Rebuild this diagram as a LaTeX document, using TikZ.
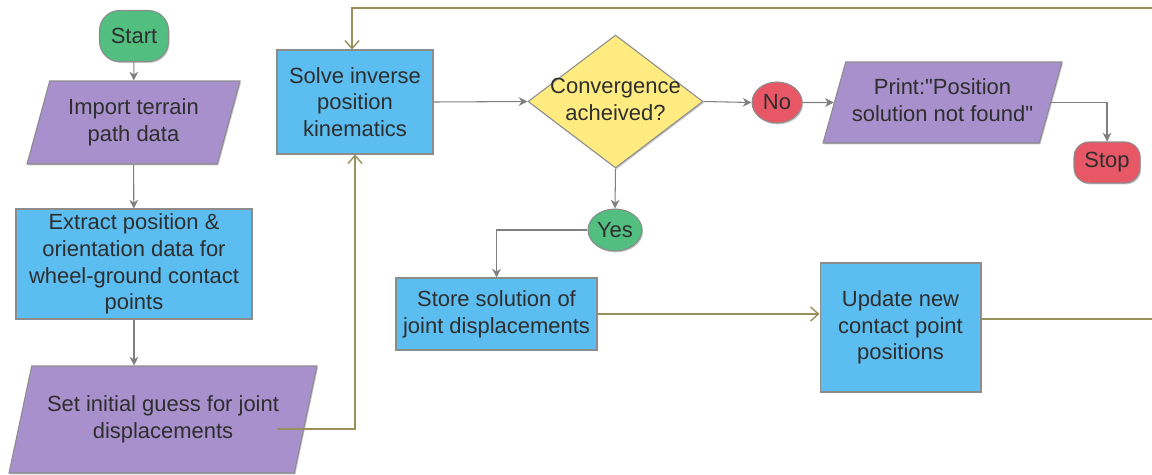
\documentclass[tikz,border=0pt]{standalone}
\usepackage{fontspec}
\setmainfont{Liberation Sans}[Ligatures=TeXOff]
\usetikzlibrary{shapes.geometric,arrows.meta,shadows}
\definecolor{cgreen}{HTML}{52BE80}
\definecolor{cred}{HTML}{E85766}
\definecolor{cpurple}{HTML}{A890CC}
\definecolor{cblue}{HTML}{5BBDF0}
\definecolor{cyellow}{HTML}{FFEB80}
\definecolor{colive}{HTML}{9A905E}
\definecolor{cborder}{HTML}{8C8C8C}
\definecolor{cline}{HTML}{7F7F7F}
\definecolor{ctext}{HTML}{2E2E2E}
\newcommand\zw[1]{\makebox[0pt]{\begin{tabular}{@{}c@{}}#1\end{tabular}}}
\begin{document}
\begin{tikzpicture}[x=0.02cm,y=-0.02cm,
  base/.style={draw=cborder,line width=0.6pt,text=ctext,align=center,inner sep=0pt,
    font=\fontsize{12.5pt}{15.2pt}\selectfont,
    drop shadow={shadow xshift=0.6pt,shadow yshift=-0.8pt,opacity=0.22,fill=black}},
  procbox/.style={base,rectangle,fill=cblue},
  iobox/.style={base,trapezium,trapezium left angle=67,trapezium right angle=113,
    trapezium stretches body,fill=cpurple},
  decbox/.style={base,diamond,fill=cyellow},
  termgreen/.style={base,rectangle,rounded corners=0.4cm,fill=cgreen},
  termred/.style={base,rectangle,rounded corners=0.3cm,fill=cred},
  ovgreen/.style={base,ellipse,fill=cgreen},
  ovred/.style={base,ellipse,fill=cred},
  garrow/.style={draw=cline,line width=0.6pt,-{Stealth[length=5pt,width=5pt]}},
  oarrow/.style={draw=colive,line width=0.8pt,-{Straight Barb[length=4.5pt,width=8pt]}},
  oline/.style={draw=colive,line width=0.8pt}]
\clip (0,0) rectangle (1152,474);

\node[termgreen,minimum width=1.38cm,minimum height=1.02cm] (start) at (134,36) {Start};
\node[iobox,minimum width=4.26cm,minimum height=1.66cm] (imp) at (133.5,122.5) {\zw{Import terrain\\path data}};
\node[procbox,minimum width=4.72cm,minimum height=2.2cm] (ext) at (134,264) {Extract position \&\\orientation data for\\wheel-ground contact\\points};
\node[iobox,minimum width=6.16cm,minimum height=2.14cm] (set) at (163,419.5) {\zw{Set initial guess for joint\\displacements}};
\node[procbox,minimum width=3.12cm,minimum height=2.08cm] (solve) at (355,102) {Solve inverse\\position\\kinematics};
\node[decbox,minimum width=3.5cm,minimum height=2.66cm] (dec) at (615.5,101.5) {\zw{Convergence\\acheived?}};
\node[ovgreen,minimum width=1.08cm,minimum height=0.84cm] (yes) at (615,230) {Yes};
\node[procbox,minimum width=4.02cm,minimum height=1.44cm] (store) at (496.5,314) {Store solution of\\joint displacements};
\node[procbox,minimum width=3.22cm,minimum height=2.58cm] (upd) at (900.5,327.5) {Update new\\contact point\\positions};
\node[ovred,minimum width=1.0cm,minimum height=0.82cm] (no) at (777,102.5) {No};
\node[iobox,minimum width=4.78cm,minimum height=1.62cm] (print) at (942.5,102.5) {\zw{Print:"Position\\solution not found"}};
\node[termred,minimum width=1.32cm,minimum height=0.82cm] (stop) at (1107,162.5) {Stop};

\coordinate (s1) at (277,429);
\coordinate (r1) at (1165,319);

\draw[garrow] (start) -- (imp);
\draw[garrow] (imp) -- (ext);
\draw[garrow] (ext.south) -- (ext.south |- set.north);
\draw[oarrow] (s1) -| (solve.south);
\draw[garrow] (solve.east) -- (dec.west);
\draw[garrow] (dec.south) -- (yes.north);
\draw[garrow] (yes.west) -| (store.north);
\draw[oarrow] (store.east) -- (store.east -| upd.west);
\draw[garrow] (dec.east) -- (no.west);
\draw[garrow] (no.east) -- (print.west);
\draw[garrow] (print.east) -| (stop.north);
\draw[oarrow] ([yshift=4.8pt]upd.east) -- ([yshift=4.8pt]upd.east -| r1) |- (352,8) -- (solve.north -| 352,0);
\end{tikzpicture}
\end{document}
